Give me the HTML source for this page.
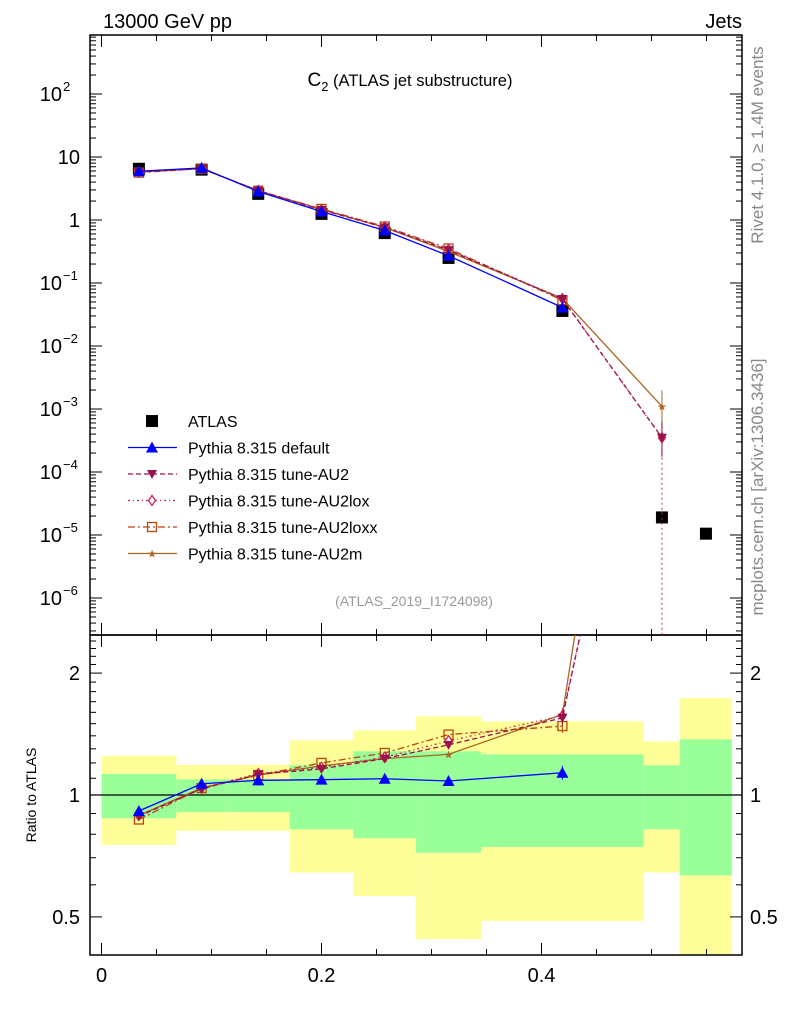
<!DOCTYPE html>
<html><head><meta charset="utf-8"><style>
body{margin:0;background:#fff;}
svg{display:block;font-family:"Liberation Sans",sans-serif;}
</style></head><body>
<svg id="c" width="786" height="1024" viewBox="0 0 786 1024"></svg>
<script>
const edges=[0,0.068,0.114,0.171,0.229,0.286,0.345,0.493,0.526,0.573];
const xs=[0.034,0.091,0.1425,0.2,0.2575,0.3155,0.419,0.5095,0.5495];
const atlas=[6.5,6.3,2.6,1.25,0.62,0.25,0.036,1.9e-5,1.05e-5];
const yelHi=[1.25,1.186,1.186,1.365,1.444,1.564,1.52,1.357,1.735];
const yelLo=[0.753,0.816,0.816,0.644,0.563,0.441,0.489,0.644,0.3];
const grnHi=[1.127,1.093,1.093,1.184,1.282,1.282,1.26,1.184,1.372];
const grnLo=[0.876,0.908,0.908,0.823,0.782,0.72,0.744,0.823,0.633];
const rDefault=[0.913,1.066,1.087,1.091,1.097,1.083,1.135];
const rAU2=[0.887,1.036,1.125,1.16,1.23,1.33,1.55];
const rAU2lox=[0.89,1.04,1.13,1.17,1.24,1.36,1.57];
const rAU2loxx=[0.87,1.04,1.12,1.2,1.27,1.41,1.48];
const rAU2m=[0.89,1.04,1.12,1.18,1.23,1.26,1.58];
const mcTail={AU2:[3.5e-4],AU2lox:[3.5e-4],AU2m:[1.1e-3]};
const xTicks=[0,0.2,0.4];
const yDecades=[-6,-5,-4,-3,-2,-1,0,1,2];
const yLabels=["10","10","10","10","10","10","1","10","10"];
const ySups=["−6","−5","−4","−3","−2","−1","","","2"];
const rTicks=[0.5,1,2];

const L=90,R=742,T=35,MB=635,B=955;
const X=v=>101.5+v*1100;
const Y=v=>220-Math.log10(v)*63;
const RY=v=>795-Math.log10(v)*405;
const svg=document.getElementById('c');
const NS='http://www.w3.org/2000/svg';
function el(tag,at,parent){const e=document.createElementNS(NS,tag);for(const k in at)e.setAttribute(k,at[k]);(parent||svg).appendChild(e);return e;}
function txt(s,at,parent){const e=el('text',at,parent);e.textContent=s;return e;}

const bands=el('g',{});


for(let i=0;i<yelHi.length;i++){
  const x0=X(edges[i]),x1=X(edges[i+1]);
  const yt=Math.max(RY(yelHi[i]),MB), yb=Math.min(RY(yelLo[i]),B);
  const r=el('rect',{x:x0,y:yt,width:x1-x0,height:yb-yt,fill:'#ffff99'},bands);
  
  
  const g=el('rect',{x:x0,y:RY(grnHi[i]),width:x1-x0,height:RY(grnLo[i])-RY(grnHi[i]),fill:'#99ff99'},bands);
  
  
}
el('line',{x1:L,x2:R,y1:RY(1),y2:RY(1),stroke:'#000','stroke-width':1.2});

const fr=el('g',{fill:'none',stroke:'#000','stroke-width':1.5});


el('rect',{x:L,y:T,width:R-L,height:MB-T},fr);
el('rect',{x:L,y:MB,width:R-L,height:B-MB},fr);

const tk=el('g',{stroke:'#000','stroke-width':1});
for(let v=0;v<=0.58;v+=0.05){
  const major=Math.abs(v/0.2-Math.round(v/0.2))<1e-6;
  const len=major?12:6;const x=X(v);
  el('line',{x1:x,x2:x,y1:T,y2:T+len},tk);
  el('line',{x1:x,x2:x,y1:MB,y2:MB-len},tk);
  el('line',{x1:x,x2:x,y1:MB,y2:MB+len},tk);
  el('line',{x1:x,x2:x,y1:B,y2:B-len},tk);
}
for(let d=-7;d<=2;d++){
  for(let m=1;m<10;m++){
    const y=Y(m*Math.pow(10,d)); if(y<T||y>MB)continue;
    const len=m==1?12:6;
    el('line',{x1:L,x2:L+len,y1:y,y2:y},tk);
    el('line',{x1:R,x2:R-len,y1:y,y2:y},tk);
  }
}
for(let v=0.4;v<=2.5;v+=0.1){
  const y=RY(v); if(y<MB||y>B)continue;
  const major=[0.5,1,2].some(t=>Math.abs(t-v)<1e-6);
  const len=major?12:6;
  el('line',{x1:L,x2:L+len,y1:y,y2:y},tk);
  el('line',{x1:R,x2:R-len,y1:y,y2:y},tk);
}
xTicks.forEach(v=>{const t=txt(String(v),{x:X(v),y:982,'font-size':20,'text-anchor':'middle'});
  });
yDecades.forEach((d,i)=>{
  const t=txt(yLabels[i],{x:ySups[i]?62:80,y:Y(Math.pow(10,d))+7,'font-size':20,'text-anchor':'end'});
  
  if(ySups[i]){const s=txt(ySups[i],{x:63,y:Y(Math.pow(10,d))-3,'font-size':13,'text-anchor':'start'});
    }
});
rTicks.forEach(v=>{
  const a=txt(String(v),{x:80,y:RY(v)+7,'font-size':20,'text-anchor':'end'});
  
  const b=txt(String(v),{x:750,y:RY(v)+7,'font-size':20,'text-anchor':'start'});
  
});

const defs=el('defs',{});
const c1=el('clipPath',{id:'cm'},defs);el('rect',{x:L,y:T,width:R-L,height:MB-T},c1);
const c2=el('clipPath',{id:'cr'},defs);el('rect',{x:L,y:MB,width:R-L,height:B-MB},c2);

const series=[
 {name:'default',r:rDefault,col:'#0000ff',dash:'',mk:'tri'},
 {name:'AU2',r:rAU2,col:'#99114d',dash:'5,3',mk:'tridown'},
 {name:'AU2lox',r:rAU2lox,col:'#cc2255',dash:'2,3,1,3',mk:'diamond'},
 {name:'AU2loxx',r:rAU2loxx,col:'#bb4411',dash:'7,3,2,3',mk:'square'},
 {name:'AU2m',r:rAU2m,col:'#aa6622',dash:'',mk:'star'}];
function marker(g,kind,x,y,col){
  let m;
  if(kind=='tri')m=el('polygon',{points:`${x},${y-6} ${x-6},${y+5} ${x+6},${y+5}`,fill:col},g);
  else if(kind=='tridown')m=el('polygon',{points:`${x},${y+5} ${x-5},${y-4} ${x+5},${y-4}`,fill:col},g);
  else if(kind=='diamond')m=el('polygon',{points:`${x},${y-5} ${x+3.5},${y} ${x},${y+5} ${x-3.5},${y}`,fill:'#fff',stroke:col,'stroke-width':1.3},g);
  else if(kind=='square')m=el('rect',{x:x-4.5,y:y-4.5,width:9,height:9,fill:'none',stroke:col,'stroke-width':1.3},g);
  else if(kind=='star')m=txt('★',{x:x,y:y+4,'font-size':11,'text-anchor':'middle',fill:col,'font-family':'DejaVu Sans'},g);
  else m=el('rect',{x:x-6,y:y-6,width:12,height:12,fill:col},g);
  
  
}
const gm=el('g',{'clip-path':'url(#cm)'});

const gr=el('g',{'clip-path':'url(#cr)'});

atlas.forEach((v,i)=>marker(gm,'sq',X(xs[i]),Y(v),'#000'));
series.slice().reverse().forEach(s=>{
  let pts=s.r.map((r,i)=>[X(xs[i]),Y(atlas[i]*r)]);
  const tail=mcTail[s.name];
  if(tail){tail.forEach((v,j)=>pts.push([X(xs[7+j]),v>0?Y(v):MB+20]));}
  const p=el('polyline',{points:pts.map(p=>p.join(',')).join(' '),fill:'none',stroke:s.col,'stroke-width':1.3,'stroke-dasharray':s.dash},gm);
  
  s.r.forEach((r,i)=>marker(gm,s.mk,X(xs[i]),Y(atlas[i]*r),s.col));
  if(tail)tail.forEach((v,j)=>{if(v>0){
    el('line',{x1:X(xs[7+j]),x2:X(xs[7+j]),y1:Y(v*1.8),y2:Y(v/2),stroke:s.col},gm);
    marker(gm,s.mk,X(xs[7+j]),Y(v),s.col);}});
  if(s.name=='AU2lox')el('line',{x1:X(xs[7]),x2:X(xs[7]),y1:Y(3.5e-4),y2:MB,stroke:s.col,'stroke-dasharray':'2,3'},gm);
  let rp=s.r.map((r,i)=>[X(xs[i]),RY(r)]);
  if(tail)rp.push([X(xs[6])+(s.name=='AU2m'?14:20),MB-10]);
  const q=el('polyline',{points:rp.map(p=>p.join(',')).join(' '),fill:'none',stroke:s.col,'stroke-width':1.3,'stroke-dasharray':s.dash},gr);
  
  s.r.forEach((r,i)=>marker(gr,s.mk,X(xs[i]),RY(r),s.col));
  el('line',{x1:X(xs[6]),x2:X(xs[6]),y1:RY(s.r[6]*1.04),y2:RY(s.r[6]/1.04),stroke:s.col},gr);
});

const lg=el('g',{});

const lab=['ATLAS','Pythia 8.315 default','Pythia 8.315 tune-AU2','Pythia 8.315 tune-AU2lox','Pythia 8.315 tune-AU2loxx','Pythia 8.315 tune-AU2m'];
lab.forEach((t,i)=>{
  const y=421+i*26.5;
  if(i==0)marker(lg,'sq',152,y,'#000');
  else{const s=series[i-1];
    el('line',{x1:128,x2:177,y1:y,y2:y,stroke:s.col,'stroke-width':1.3,'stroke-dasharray':s.dash},lg);
    marker(lg,s.mk,152,y,s.col);}
  const e=txt(t,{x:188,y:y+6,'font-size':16},lg);
  
});
const T1=txt('13000 GeV pp',{x:103,y:28,'font-size':20});
const T2=txt('Jets',{x:742,y:28,'font-size':20,'text-anchor':'end'});
const T3=el('text',{x:410,y:86,'font-size':19,'text-anchor':'middle'});
T3.innerHTML='C<tspan font-size="13" dy="5">2</tspan><tspan dy="-5" font-size="16.5"> (ATLAS jet substructure)</tspan>';

const T4=txt('(ATLAS_2019_I1724098)',{x:414,y:606,'font-size':14,fill:'#999','text-anchor':'middle'});
const T5=txt('Rivet 4.1.0, ≥ 1.4M events',{x:0,y:0,'font-size':17,fill:'#888','text-anchor':'middle',transform:'translate(763,145) rotate(-90)'});
const T6=txt('mcplots.cern.ch [arXiv:1306.3436]',{x:0,y:0,'font-size':17,fill:'#888','text-anchor':'middle',transform:'translate(763,487) rotate(-90)'});
const T7=txt('Ratio to ATLAS',{x:0,y:0,'font-size':14,'text-anchor':'middle',transform:'translate(36,795) rotate(-90)'});
</script>
</body></html>
